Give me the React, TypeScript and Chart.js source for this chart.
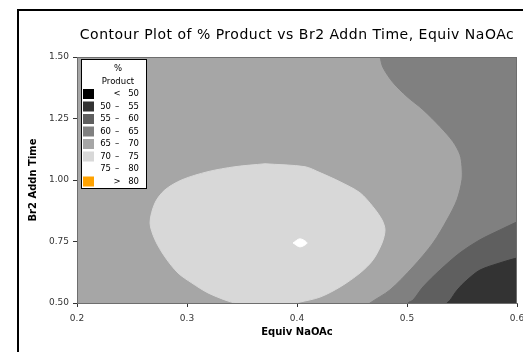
import React, { useEffect, useRef } from "react";
import { Chart, registerables } from "chart.js";
Chart.register(...registerables);

const chartTitle = "Contour Plot of % Product vs Br2 Addn Time, Equiv NaOAc";
const xAxisTitle = "Equiv NaOAc";
const yAxisTitle = "Br2 Addn Time";
const xTickValues = [0.2, 0.3, 0.4, 0.5, 0.6];
const yTickValues = [0.5, 0.75, 1.0, 1.25, 1.5];

const legendHeader = ["%", "Product"];
const levelLows = ["", "50", "55", "60", "65", "70", "75", ""];
const levelSeps = ["<", "–", "–", "–", "–", "–", "–", ">"];
const levelHighs = ["50", "55", "60", "65", "70", "75", "80", "80"];
const levelColors = ["#000000", "#333333", "#5f5f5f", "#808080", "#a6a6a6", "#d8d8d8", "#ffffff", "#ffa200"];

// level index that fills the rest of the plot (65 - 70)
const backgroundLevel = 4;

// contour region boundaries as [Equiv NaOAc, Br2 Addn Time]
const region60to65: [number, number][] = [
  [0.4736, 1.53], [0.4755, 1.5], [0.4782, 1.457], [0.4873, 1.396], [0.5, 1.339],
  [0.5145, 1.286], [0.53, 1.217], [0.5418, 1.156], [0.5482, 1.103], [0.55, 1.054],
  [0.55, 1.001], [0.5455, 0.92], [0.5364, 0.838], [0.5236, 0.744], [0.5055, 0.647],
  [0.4845, 0.553], [0.4664, 0.5], [0.459, 0.47], [0.66, 0.44], [0.66, 1.56], [0.4736, 1.53],
];
const region55to60: [number, number][] = [
  [0.609, 0.851], [0.6, 0.83], [0.5845, 0.797], [0.5664, 0.757], [0.5482, 0.704],
  [0.53, 0.634], [0.5145, 0.565], [0.5055, 0.512], [0.5009, 0.5], [0.498, 0.47],
  [0.66, 0.44], [0.66, 0.86], [0.609, 0.851],
];
const region50to55: [number, number][] = [
  [0.612, 0.694], [0.6, 0.683], [0.5845, 0.663], [0.5664, 0.634], [0.5545, 0.593],
  [0.5455, 0.552], [0.5391, 0.511], [0.5364, 0.5], [0.535, 0.47], [0.66, 0.44],
  [0.66, 0.7], [0.612, 0.694],
];
const region70to75: [number, number][] = [
  [0.3709, 1.066], [0.4073, 1.054], [0.4209, 1.03], [0.4391, 0.993], [0.4573, 0.948],
  [0.4691, 0.891], [0.4773, 0.838], [0.48, 0.797], [0.4773, 0.744], [0.4691, 0.675],
  [0.4573, 0.622], [0.4391, 0.565], [0.4209, 0.524], [0.4027, 0.504], [0.3936, 0.497],
  [0.3482, 0.497], [0.3373, 0.508], [0.3191, 0.541], [0.3045, 0.581], [0.2918, 0.622],
  [0.28, 0.687], [0.2709, 0.757], [0.2664, 0.826], [0.2709, 0.907], [0.28, 0.96],
  [0.2955, 1.001], [0.3191, 1.034], [0.3436, 1.054], [0.3709, 1.066],
];
const region75to80: [number, number][] = [
  [0.3964, 0.744], [0.4027, 0.761], [0.4091, 0.744], [0.4027, 0.728], [0.3964, 0.744],
];

// drawn bottom-up: last listed is painted first
const regions = [
  { pts: region75to80, level: 6 },
  { pts: region70to75, level: 5 },
  { pts: region50to55, level: 1 },
  { pts: region55to60, level: 2 },
  { pts: region60to65, level: 3 },
];

const FONT = "DejaVu Sans";

const decorPlugin = {
  id: "decor",
  beforeDraw(chart: any) {
    const { ctx, chartArea } = chart;
    ctx.save();
    ctx.fillStyle = "#ffffff";
    ctx.fillRect(0, 0, chart.width, chart.height);
    ctx.fillStyle = "#000000";
    ctx.fillRect(17, 9, 2, chart.height);
    ctx.fillRect(17, 9, chart.width, 2);
    ctx.fillStyle = levelColors[backgroundLevel];
    ctx.fillRect(chartArea.left, chartArea.top, chartArea.right - chartArea.left, chartArea.bottom - chartArea.top);
    ctx.restore();
  },
  afterDraw(chart: any) {
    const { ctx, chartArea } = chart;
    ctx.save();
    ctx.strokeStyle = "#6e6e6e";
    ctx.lineWidth = 1;
    ctx.strokeRect(chartArea.left + 0.5, chartArea.top + 0.5, chartArea.right - chartArea.left - 1, chartArea.bottom - chartArea.top);
    // title
    ctx.fillStyle = "#000";
    ctx.font = `14px "${FONT}"`;
    ctx.textAlign = "center";
    ctx.textBaseline = "middle";
    try { (ctx as any).letterSpacing = "0.5px"; } catch (e) {}
    ctx.fillText(chartTitle, (chartArea.left + chartArea.right) / 2, 35);
    try { (ctx as any).letterSpacing = "0px"; } catch (e) {}
    // legend
    const bx = 81, by = 59, bw = 65, bh = 129;
    ctx.fillStyle = "#fff";
    ctx.fillRect(bx, by, bw, bh);
    ctx.strokeStyle = "#000";
    ctx.strokeRect(bx + 0.5, by + 0.5, bw, bh);
    ctx.fillStyle = "#000";
    ctx.font = `8.5px "${FONT}"`;
    ctx.textAlign = "center";
    ctx.fillText(legendHeader[0], 118, 69);
    ctx.fillText(legendHeader[1], 118, 82);
    for (let i = 0; i < levelColors.length; i++) {
      const y = 94 + i * 12.5;
      ctx.fillStyle = levelColors[i];
      ctx.fillRect(83, y - 5, 11, 10);
      ctx.fillStyle = "#000";
      ctx.textAlign = "right";
      if (levelLows[i]) ctx.fillText(levelLows[i], 111, y);
      ctx.textAlign = "center";
      ctx.fillText(levelSeps[i], 117, y);
      ctx.textAlign = "right";
      ctx.fillText(levelHighs[i], 139, y);
    }
    ctx.restore();
  },
};

export default function App() {
  const ref = useRef<HTMLCanvasElement>(null);
  useEffect(() => {
    const canvas = ref.current!;
    const chart = new Chart(canvas, {
      type: "line",
      data: {
        datasets: regions.map((r) => ({
          data: r.pts.map(([x, y]) => ({ x, y })),
          fill: "shape",
          backgroundColor: levelColors[r.level],
          borderColor: levelColors[r.level],
          borderWidth: 1,
          pointRadius: 0,
          pointHoverRadius: 0,
          tension: 0.3,
        })),
      },
      options: {
        responsive: false,
        animation: false,
        devicePixelRatio: 1,
        events: [],
        layout: { padding: { top: 57, left: 0, right: 28, bottom: 0 } },
        plugins: { legend: { display: false }, tooltip: { enabled: false }, title: { display: false } },
        scales: {
          x: {
            type: "linear",
            min: 0.2,
            max: 0.6,
            afterBuildTicks: (s: any) => { s.ticks = xTickValues.map((v) => ({ value: v })); },
            afterFit: (s: any) => { s.height = 49; },
            ticks: {
              callback: (v: any) => Number(v).toFixed(1),
              font: { family: FONT, size: 9 },
              color: "#333",
              padding: 6,
              maxRotation: 0,
              autoSkip: false,
            },
            grid: { display: true, drawOnChartArea: false, drawTicks: true, tickLength: 4, color: "#333" },
            border: { display: true, color: "#6e6e6e" },
            title: { display: true, text: xAxisTitle, color: "#000", font: { family: FONT, size: 10, weight: "bold" }, padding: { top: 0, bottom: 14 } },
          },
          y: {
            type: "linear",
            min: 0.5,
            max: 1.5,
            afterBuildTicks: (s: any) => { s.ticks = yTickValues.map((v) => ({ value: v })); },
            afterFit: (s: any) => { s.width = 77; },
            ticks: {
              callback: (v: any) => Number(v).toFixed(2),
              font: { family: FONT, size: 9 },
              color: "#333",
              padding: 4,
              autoSkip: false,
            },
            grid: { display: true, drawOnChartArea: false, drawTicks: true, tickLength: 4, color: "#333" },
            border: { display: true, color: "#6e6e6e" },
            title: { display: true, text: yAxisTitle, color: "#000", font: { family: FONT, size: 10, weight: "bold" }, padding: { top: 27, bottom: 0 } },
          },
        },
      },
      plugins: [decorPlugin],
    } as any);
    return () => chart.destroy();
  }, []);
  return (
    <div style={{ position: "fixed", left: 0, top: 0, width: 523, height: 352, overflow: "hidden", background: "#fff" }}>
      <canvas ref={ref} width={545} height={352} style={{ display: "block", width: 545, height: 352 }} />
    </div>
  );
}
